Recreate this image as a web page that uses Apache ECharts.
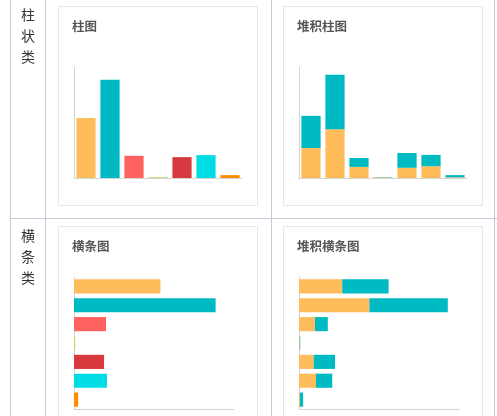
<!DOCTYPE html>
<html>
<head>
<meta charset="utf-8">
<script src="https://cdn.jsdelivr.net/npm/echarts@6/dist/echarts.min.js"></script>
<style>
html,body{margin:0;padding:0;background:#fff;}
#c{width:497px;height:416px;}
</style>
</head>
<body>
<div id="c"></div>
<script>
// ---- data ----
const categories = ['一', '二', '三', '四', '五', '六', '七'];
const barValues = [540, 885, 200, 8, 188, 206, 26];
const stackA = [270, 440, 100, 5, 92, 106, 6];
const stackB = [290, 490, 80, 3, 133, 102, 20];
const rowLabels = ['柱\n状\n类', '横\n条\n类'];
const chartTitles = ['柱图', '堆积柱图', '横条图', '堆积横条图'];

// ---- style ----
const palette = ['#FFBC5A', '#00BAC3', '#FF6161', '#C4DB72', '#D8393E', '#00DCE3', '#FF8C00'];
const cA = '#FFBC5A', cB = '#00BAC3';
const lineC = '#C3C9D6', cardC = '#E6E7EA', axisC = '#D4D4D4';

const chart = echarts.init(document.getElementById('c'), null, {renderer: 'canvas'});

const cards = [
  {x: 58, y: 6}, {x: 283, y: 6}, {x: 58, y: 226}, {x: 283, y: 226}
];
const graphics = [];
// table lines
[10.5, 45.5, 271.5, 494.5].forEach(x => graphics.push({type: 'line', shape: {x1: x, y1: 0, x2: x, y2: 416}, style: {stroke: lineC, lineWidth: 1}, silent: true}));
graphics.push({type: 'line', shape: {x1: 10, y1: 218.5, x2: 497, y2: 218.5}, style: {stroke: lineC, lineWidth: 1}});
// cards
cards.forEach((c, i) => {
  graphics.push({type: 'rect', shape: {x: c.x + 0.5, y: c.y + 0.5, width: 199, height: 199}, style: {fill: '#fff', stroke: cardC, lineWidth: 1}, z: -1});
  graphics.push({type: 'text', x: c.x + 14, y: c.y + 20, style: {text: chartTitles[i], font: 'bold 12.5px "Noto Sans CJK SC"', fill: '#555', verticalAlign: 'middle'}});
});
// row labels
graphics.push({type: 'text', x: 28, y: 15, style: {text: rowLabels[0], font: '14px "Noto Sans CJK SC"', fill: '#333', align: 'center', verticalAlign: 'top', lineHeight: 21}, top: 4, left: 21});
graphics.push({type: 'text', x: 28, y: 236, style: {text: rowLabels[1], font: '14px "Noto Sans CJK SC"', fill: '#333', align: 'center', verticalAlign: 'top', lineHeight: 21}, top: 225, left: 21});

const grids = [
  {left: 74, top: 67, width: 168, height: 111},
  {left: 299, top: 67, width: 168, height: 111},
  {left: 74, top: 277, width: 160, height: 132},
  {left: 299, top: 277, width: 160, height: 132}
];
const axLine = {show: true, lineStyle: {color: axisC, width: 1}};
const catAxis = (gi, extra) => Object.assign({type: 'category', data: categories, gridIndex: gi, axisLine: axLine, axisTick: {show: false}, axisLabel: {show: false}, splitLine: {show: false}}, extra || {});
const valAxis = (gi) => ({type: 'value', gridIndex: gi, min: 0, max: 1000, axisLine: axLine, axisTick: {show: false}, axisLabel: {show: false}, splitLine: {show: false}});

chart.setOption({
  animation: false,
  graphic: graphics,
  grid: grids.map(g => Object.assign({outerBoundsMode: 'none'}, g)),
  xAxis: [catAxis(0), catAxis(1), valAxis(2), valAxis(3)],
  yAxis: [valAxis(0), valAxis(1), catAxis(2, {inverse: true}), catAxis(3, {inverse: true})],
  series: [
    {type: 'bar', xAxisIndex: 0, yAxisIndex: 0, data: barValues, barCategoryGap: '20%',
      itemStyle: {color: p => palette[p.dataIndex]}},
    {type: 'bar', xAxisIndex: 1, yAxisIndex: 1, stack: 's1', data: stackA, barCategoryGap: '20%', itemStyle: {color: cA}},
    {type: 'bar', xAxisIndex: 1, yAxisIndex: 1, stack: 's1', data: stackB, barCategoryGap: '20%', itemStyle: {color: cB}},
    {type: 'bar', xAxisIndex: 2, yAxisIndex: 2, data: barValues, barCategoryGap: '25%',
      itemStyle: {color: p => palette[p.dataIndex]}},
    {type: 'bar', xAxisIndex: 3, yAxisIndex: 3, stack: 's2', data: stackA, barCategoryGap: '25%', itemStyle: {color: cA}},
    {type: 'bar', xAxisIndex: 3, yAxisIndex: 3, stack: 's2', data: stackB, barCategoryGap: '25%', itemStyle: {color: cB}}
  ]
});
</script>
</body>
</html>
